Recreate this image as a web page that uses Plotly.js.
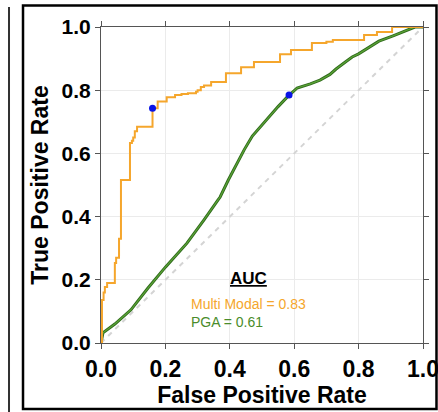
<!DOCTYPE html>
<html>
<head>
<meta charset="utf-8">
<script src="https://cdn.plot.ly/plotly-3.0.1.min.js"></script>
<style>html,body{margin:0;padding:0;background:#fff;}#chart{width:438px;height:412px;}</style>
</head>
<body>
<div id="chart"></div>
<script>
// Multi Modal ROC (stepped, points at top of each vertical step)
const mmFpr = [0, 0.003, 0.008, 0.012, 0.019, 0.043, 0.047, 0.056, 0.062, 0.090, 0.096, 0.100, 0.105, 0.112, 0.160, 0.176, 0.204, 0.230, 0.250, 0.270, 0.295, 0.300, 0.310, 0.320, 0.342, 0.388, 0.435, 0.475, 0.556, 0.590, 0.655, 0.700, 0.720, 0.817, 0.857, 0.904, 1.0];
const mmTpr = [0, 0.136, 0.160, 0.177, 0.190, 0.253, 0.270, 0.330, 0.516, 0.633, 0.640, 0.650, 0.670, 0.684, 0.743, 0.764, 0.778, 0.785, 0.788, 0.790, 0.795, 0.800, 0.810, 0.815, 0.826, 0.854, 0.873, 0.889, 0.914, 0.927, 0.949, 0.953, 0.959, 0.975, 0.984, 1.0, 1.0];
// PGA ROC
const pgaFpr = [0, 0.006, 0.043, 0.093, 0.146, 0.200, 0.267, 0.286, 0.320, 0.363, 0.370, 0.395, 0.420, 0.445, 0.470, 0.500, 0.525, 0.550, 0.578, 0.609, 0.650, 0.680, 0.711, 0.730, 0.760, 0.780, 0.800, 0.830, 0.863, 0.907, 0.960, 0.975, 1.0];
const pgaTpr = [0, 0.032, 0.060, 0.105, 0.174, 0.240, 0.316, 0.342, 0.390, 0.452, 0.462, 0.515, 0.565, 0.612, 0.655, 0.690, 0.720, 0.748, 0.778, 0.807, 0.820, 0.832, 0.850, 0.867, 0.890, 0.905, 0.915, 0.935, 0.955, 0.972, 0.995, 1.0, 1.0];
// Optimal operating points
const ptFpr = [0.160, 0.584];
const ptTpr = [0.743, 0.785];
const chance = [0, 1];
const tickVals = [0, 0.2, 0.4, 0.6, 0.8, 1.0];
const tickText = ["0.0", "0.2", "0.4", "0.6", "0.8", "1.0"];
const aucLabels = ["Multi Modal = 0.83", "PGA = 0.61"];

const ORANGE = '#F5A62C';
const GREEN = '#5BA336';
const GREEN_DARK = '#2F6A1C';
const FONT = 'Liberation Sans, Arial, Helvetica, sans-serif';

const traces = [
  {x: chance, y: chance, mode: 'lines', line: {color: '#d4d4d4', width: 2, dash: '5px,5px'}, hoverinfo: 'skip'},
  {x: pgaFpr, y: pgaTpr, mode: 'lines', line: {color: GREEN_DARK, width: 3}},
  {x: pgaFpr, y: pgaTpr, mode: 'lines', line: {color: GREEN, width: 1.2}},
  {x: mmFpr, y: mmTpr, mode: 'lines', line: {color: ORANGE, width: 2, shape: 'hv'}},
  {x: ptFpr, y: ptTpr, mode: 'markers', marker: {color: '#0a14e6', size: 7}, cliponaxis: false}
];

const axisCommon = {
  range: [0, 1],
  tickvals: tickVals,
  ticktext: tickText,
  showgrid: true,
  gridcolor: '#ebebeb',
  gridwidth: 1,
  zeroline: false,
  showline: true,
  linecolor: '#555',
  linewidth: 1,
  mirror: 'ticks',
  ticks: 'outside',
  ticklen: 5,
  tickcolor: '#555',
  tickwidth: 1,
  ticklabeloverflow: 'allow'
};

const layout = {
  width: 438,
  height: 412,
  margin: {l: 101, r: 15, t: 27, b: 69},
  paper_bgcolor: '#fff',
  plot_bgcolor: '#fff',
  showlegend: false,
  font: {family: FONT, color: '#000'},
  xaxis: Object.assign({}, axisCommon, {
    tickfont: {family: FONT, size: 23, color: '#000', weight: 'bold'},
    title: {text: '<b>False Positive Rate</b>', font: {family: FONT, size: 23, color: '#000'}, standoff: 4}
  }),
  yaxis: Object.assign({}, axisCommon, {
    tickfont: {family: FONT, size: 21, color: '#000', weight: 'bold'},
    title: {text: '<b>True Positive Rate</b>', font: {family: FONT, size: 23, color: '#000'}, standoff: 6}
  }),
  annotations: [
    {x: 0.458, y: 0.203, xref: 'x', yref: 'y', text: '<b><u>AUC</u></b>', showarrow: false, font: {family: FONT, size: 17, color: '#000'}},
    {x: 0.273, y: 0.123, xref: 'x', yref: 'y', xanchor: 'left', text: aucLabels[0], showarrow: false, font: {family: FONT, size: 14, color: ORANGE}},
    {x: 0.273, y: 0.066, xref: 'x', yref: 'y', xanchor: 'left', text: aucLabels[1], showarrow: false, font: {family: FONT, size: 14, color: '#4A8C2A'}}
  ],
  shapes: [
    {type: 'rect', xref: 'paper', yref: 'paper', x0: -0.2422, x1: 1.0419, y0: -0.2089, y1: 1.068, line: {color: '#000', width: 2.5}, layer: 'above'},
    {type: 'line', xref: 'paper', yref: 'paper', x0: -0.2857, x1: -0.2857, y0: -0.22, y1: 1.063, line: {color: '#333', width: 2}, layer: 'above'}
  ]
};

Plotly.newPlot('chart', traces, layout, {staticPlot: true, displayModeBar: false});
</script>
</body>
</html>
